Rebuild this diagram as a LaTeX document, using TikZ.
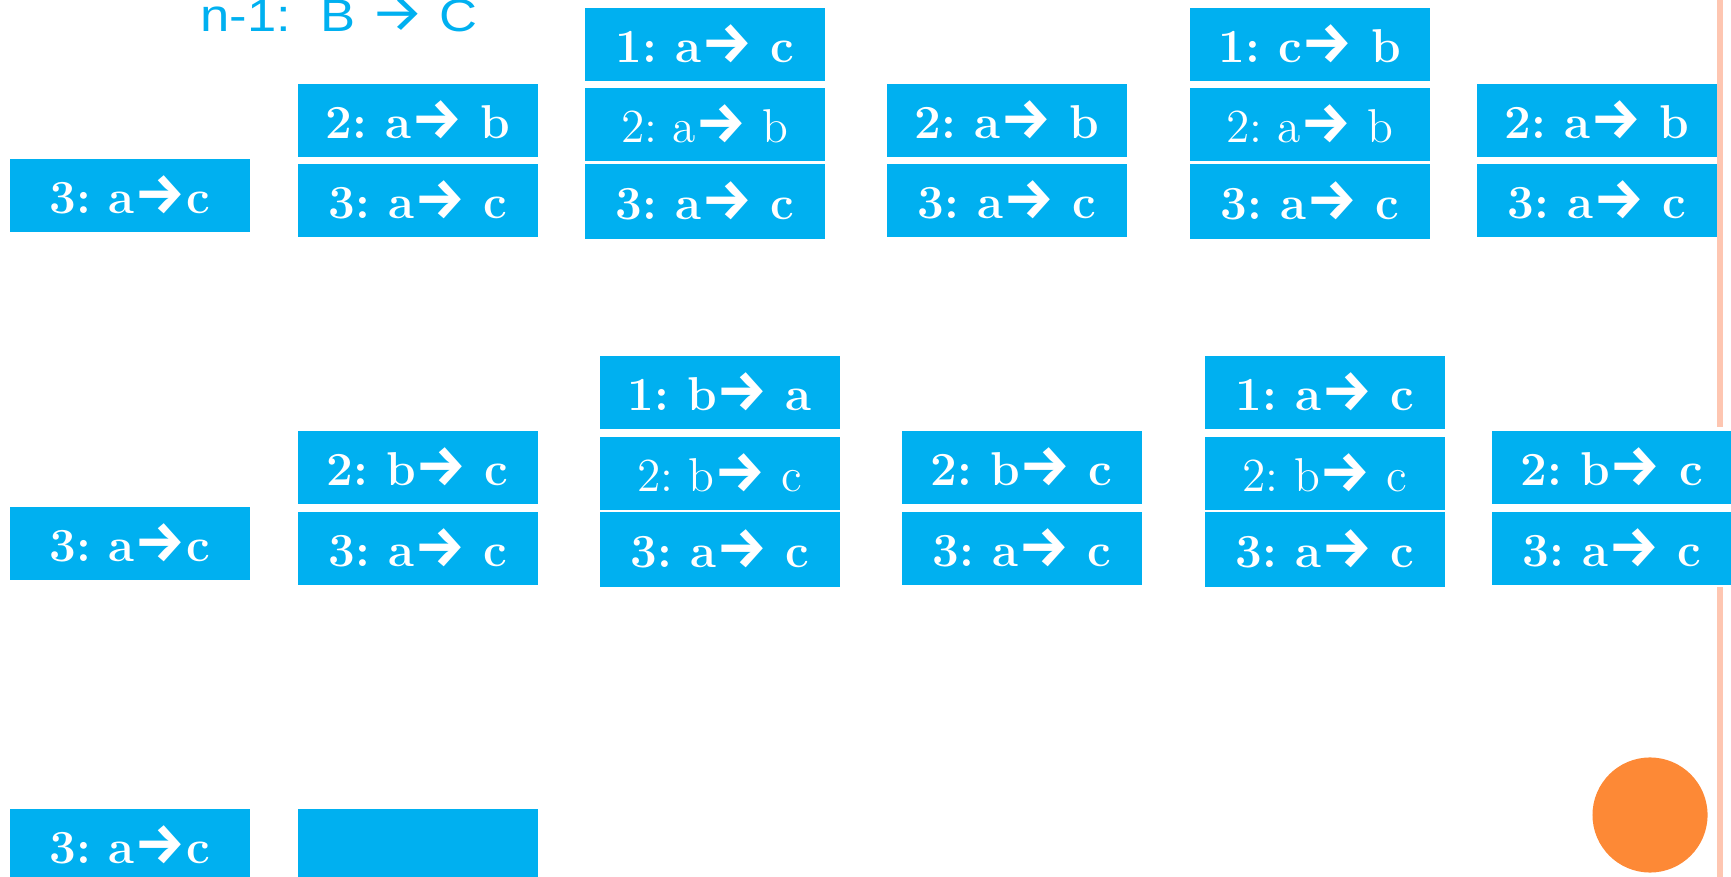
\documentclass[tikz,border=0pt]{standalone}
\usepackage{fontspec}
\usepackage{tikz}
\usetikzlibrary{positioning}
\newfontfamily\arrowfont{Fira Sans}
\newfontfamily\titlefont{Liberation Sans}
\definecolor{hnBlue}{HTML}{00B0F0}
\definecolor{hnOrange}{HTML}{FD8936}
\definecolor{hnRule}{HTML}{FEC6B1}
\newcommand{\toarr}{{\arrowfont\bfseries\scalebox{1.2}{→}}}
\frenchspacing
\tikzset{
  % Move box (blue, bold text)
  mbox/.style={rectangle,anchor=north west,inner sep=0pt,
    minimum width=2.4cm,minimum height=0.73cm,
    fill=hnBlue,text=white,
    font=\fontsize{13.5}{16}\selectfont\bfseries,
    text height=10.2pt,text depth=0pt},
  % Move box, regular text
  rbox/.style={mbox,font=\fontsize{13.5}{16}\selectfont},
  % Bottom box of a stack of three
  tbox/.style={mbox,minimum height=0.75cm},
  % Heading text
  ttl/.style={anchor=base west,inner sep=0pt,text=hnBlue,
    font=\titlefont\fontsize{13}{15}\selectfont},
}
\begin{document}
\begin{tikzpicture}[x=0.01cm,y=-0.01cm]
  \useasboundingbox (0,0) rectangle (1731,877);

  % Rule on the right
  \fill[hnRule] (1717,0) rectangle (1723,877);
  \fill[white] (1488,427) rectangle (1731,587);

  \node[ttl] (title) at (200,32)
    {\scalebox{1.15}[1]{n-1:\ \ B {\arrowfont\scalebox{1.15}{→}} C}};

  % First row
  \node[mbox] (a3) at (9,158) {3: a\toarr c};
  \node[mbox] (b2) at (297,83) {2: a\toarr\ b};
  \node[mbox] (b3) at (297,163) {3: a\toarr\ c};
  \node[mbox] (c1) at (584,7) {1: a\toarr\ c};
  \node[rbox] (c2) at (584,87) {2: a\toarr\ b};
  \node[tbox] (c3) at (584,163) {3: a\toarr\ c};
  \node[mbox] (d2) at (886,83) {2: a\toarr\ b};
  \node[mbox] (d3) at (886,163) {3: a\toarr\ c};
  \node[mbox] (e1) at (1189,7) {1: c\toarr\ b};
  \node[rbox] (e2) at (1189,87) {2: a\toarr\ b};
  \node[tbox] (e3) at (1189,163) {3: a\toarr\ c};
  \node[mbox] (f2) at (1476,83) {2: a\toarr\ b};
  \node[mbox] (f3) at (1476,163) {3: a\toarr\ c};

  % Second row
  \node[mbox] (g3) at (9,506) {3: a\toarr c};
  \node[mbox] (h2) at (297,430) {2: b\toarr\ c};
  \node[mbox] (h3) at (297,511) {3: a\toarr\ c};
  \node[mbox] (i1) at (599,355) {1: b\toarr\ a};
  \node[rbox] (i2) at (599,436) {2: b\toarr\ c};
  \node[tbox] (i3) at (599,511) {3: a\toarr\ c};
  \node[mbox] (j2) at (901,430) {2: b\toarr\ c};
  \node[mbox] (j3) at (901,511) {3: a\toarr\ c};
  \node[mbox] (k1) at (1204,355) {1: a\toarr\ c};
  \node[rbox] (k2) at (1204,436) {2: b\toarr\ c};
  \node[tbox] (k3) at (1204,511) {3: a\toarr\ c};
  \node[mbox] (l2) at (1491,430) {2: b\toarr\ c};
  \node[mbox] (l3) at (1491,511) {3: a\toarr\ c};

  % Third row
  \node[mbox] (m3) at (9,808) {3: a\toarr c};
  \node[mbox] (n3) at (297,808) {};

  \node[circle,inner sep=0pt,minimum size=1.15cm,fill=hnOrange] (dot) at (1650,815) {};
\end{tikzpicture}
\end{document}
